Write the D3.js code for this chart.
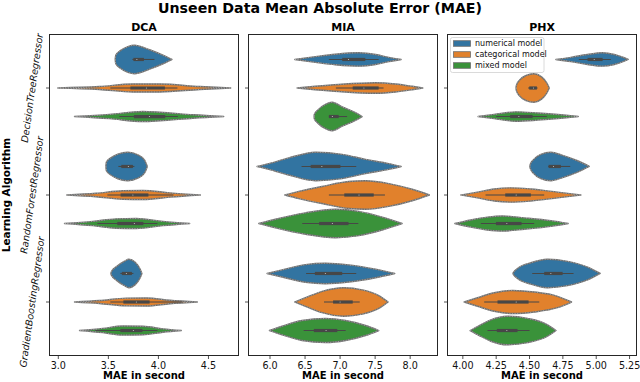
<!DOCTYPE html>
<html>
<head>
<meta charset="utf-8">
<script src="https://cdn.jsdelivr.net/npm/d3@7"></script>
<style>
  html, body { margin: 0; padding: 0; background: #fff; }
  svg { display: block; font-family: "DejaVu Sans", sans-serif; }
</style>
</head>
<body>
<svg id="chart" width="640" height="382"></svg>
<script>
// ---------------- DATA ----------------
const regions = ["DCA", "MIA", "PHX"];
const algorithms = ["DecisionTreeRegressor", "RandomForestRegressor", "GradientBoostingRegressor"];
const models = ["numerical model", "categorical model", "mixed model"];
const modelColors = ["#3274a1", "#e1812c", "#3a923a"];

const dcaTicks = [3.0, 3.5, 4.0, 4.5];
const miaTicks = [6.0, 6.5, 7.0, 7.5, 8.0];
const phxTicks = [4.0, 4.25, 4.5, 4.75, 5.0, 5.25];
const dcaTickLabels = ["3.0", "3.5", "4.0", "4.5"];
const miaTickLabels = ["6.0", "6.5", "7.0", "7.5", "8.0"];
const phxTickLabels = ["4.00", "4.25", "4.50", "4.75", "5.00", "5.25"];
const dcaDomain = [2.912, 4.80];
const miaDomain = [5.693, 8.39];
const phxDomain = [3.885, 5.302];

// violin density profiles: [MAE value, relative half-width]; order: algorithm x model
const dcaProfiles = [
  [[3.568,0],[3.574,0.3],[3.62,0.62],[3.695,0.9],[3.762,1.0],[3.812,0.93],[3.912,0.68],[4.045,0.3],[4.135,0]],
  [[2.995,0],[3.412,0.1],[3.745,0.28],[4.012,0.28],[4.412,0.1],[4.722,0]],
  [[3.162,0],[3.512,0.15],[3.845,0.35],[4.012,0.3],[4.345,0.12],[4.652,0]],
  [[3.475,0],[3.48,0.3],[3.529,0.62],[3.595,0.86],[3.695,1.0],[3.795,0.82],[3.862,0.45],[3.889,0]],
  [[3.085,0],[3.379,0.12],[3.645,0.3],[3.845,0.32],[4.112,0.15],[4.419,0]],
  [[3.062,0],[3.345,0.15],[3.579,0.33],[3.779,0.35],[4.045,0.15],[4.312,0]],
  [[3.525,0],[3.53,0.12],[3.585,0.5],[3.662,0.86],[3.705,1.0],[3.765,0.8],[3.818,0.3],[3.835,0]],
  [[3.162,0],[3.412,0.1],[3.679,0.27],[3.879,0.28],[4.112,0.12],[4.389,0]],
  [[3.212,0],[3.445,0.15],[3.645,0.32],[3.845,0.3],[4.045,0.12],[4.229,0]]
];
const miaProfiles = [
  [[6.354,0],[6.649,0.2],[6.934,0.37],[7.267,0.47],[7.505,0.35],[7.695,0.15],[7.871,0]],
  [[6.387,0],[6.649,0.12],[6.981,0.25],[7.505,0.37],[7.79,0.28],[8.028,0.12],[8.18,0]],
  [[6.628,0],[6.632,0.15],[6.68,0.45],[6.791,0.85],[6.886,1.0],[7.029,0.68],[7.219,0.27],[7.314,0]],
  [[5.816,0],[5.983,0.2],[6.268,0.6],[6.649,1.0],[7.029,0.85],[7.362,0.5],[7.695,0.2],[7.871,0]],
  [[6.211,0],[6.411,0.25],[6.744,0.6],[7.124,0.95],[7.362,1.0],[7.695,0.8],[8.028,0.4],[8.275,0]],
  [[5.84,0],[6.078,0.3],[6.506,0.75],[6.934,1.0],[7.267,0.85],[7.6,0.45],[7.885,0]],
  [[5.959,0],[6.173,0.25],[6.506,0.62],[6.791,0.72],[7.124,0.6],[7.505,0.3],[7.78,0]],
  [[6.354,0],[6.506,0.3],[6.744,0.75],[7.053,1.0],[7.314,0.85],[7.552,0.45],[7.685,0]],
  [[5.992,0],[6.173,0.3],[6.458,0.7],[6.791,0.84],[7.077,0.7],[7.362,0.35],[7.552,0]]
];
const phxProfiles = [
  [[4.698,0],[4.81,0.15],[4.935,0.35],[5.048,0.47],[5.135,0.35],[5.21,0.12],[5.24,0]],
  [[4.398,0],[4.402,0.2],[4.425,0.55],[4.475,0.88],[4.532,1.0],[4.59,0.78],[4.63,0.35],[4.648,0]],
  [[4.115,0],[4.235,0.15],[4.398,0.33],[4.56,0.25],[4.735,0.12],[4.865,0]],
  [[4.502,0],[4.506,0.15],[4.53,0.48],[4.585,0.85],[4.66,1.0],[4.748,0.78],[4.86,0.4],[4.948,0]],
  [[3.985,0],[4.11,0.2],[4.235,0.42],[4.36,0.5],[4.51,0.42],[4.71,0.2],[4.885,0]],
  [[3.94,0],[4.06,0.25],[4.185,0.45],[4.298,0.53],[4.46,0.4],[4.66,0.2],[4.79,0]],
  [[4.375,0],[4.38,0.08],[4.41,0.35],[4.51,0.75],[4.635,1.0],[4.785,0.85],[4.935,0.45],[5.03,0]],
  [[4.01,0],[4.11,0.3],[4.235,0.65],[4.373,0.81],[4.535,0.7],[4.71,0.4],[4.815,0]],
  [[4.055,0],[4.123,0.35],[4.21,0.75],[4.335,1.0],[4.485,0.85],[4.635,0.4],[4.698,0]]
];
// inner box: [whisker low, q1, median, q3, whisker high]
const dcaBoxes = [
  [3.74,3.75,3.785,3.855,3.96],[3.52,3.72,3.88,4.065,4.19],[3.61,3.755,3.91,4.068,4.195],
  [3.60,3.629,3.70,3.745,3.76],[3.49,3.622,3.745,3.90,4.15],[3.39,3.589,3.76,3.85,3.99],
  [3.62,3.635,3.68,3.735,3.75],[3.52,3.65,3.78,3.912,4.24],[3.37,3.62,3.75,3.84,3.99]
];
const miaBoxes = [
  [6.84,7.03,7.12,7.36,7.55],[6.94,7.18,7.34,7.55,7.62],[6.84,6.84,6.89,6.98,7.10],
  [6.45,6.58,6.74,7.005,7.23],[6.84,7.06,7.27,7.48,7.64],[6.46,6.70,6.89,7.12,7.26],
  [6.515,6.64,6.79,7.03,7.23],[6.77,6.90,7.00,7.18,7.28],[6.48,6.625,6.80,6.96,7.08]
];
const phxBoxes = [
  [4.87,4.935,4.985,5.048,5.11],[4.49,4.498,4.53,4.555,4.56],[4.25,4.355,4.42,4.523,4.63],
  [4.64,4.643,4.68,4.735,4.805],[4.17,4.318,4.40,4.51,4.61],[4.135,4.248,4.33,4.44,4.535],
  [4.52,4.61,4.66,4.748,4.83],[4.16,4.26,4.40,4.493,4.573],[4.185,4.255,4.33,4.41,4.50]
];

const panelData = [
  { name: regions[0], domain: dcaDomain, ticks: dcaTicks, labels: dcaTickLabels, profiles: dcaProfiles, boxes: dcaBoxes },
  { name: regions[1], domain: miaDomain, ticks: miaTicks, labels: miaTickLabels, profiles: miaProfiles, boxes: miaBoxes },
  { name: regions[2], domain: phxDomain, ticks: phxTicks, labels: phxTickLabels, profiles: phxProfiles, boxes: phxBoxes }
];

// ---------------- LAYOUT ----------------
const svg = d3.select("#chart");
const plotTop = 34.5, plotBottom = 355.5;
const panelLefts = [49.5, 248.5, 447.5];
const panelW = 189;
const edgeGray = "#6e6e6e";
const boxGray = "#474747";

svg.append("text")
  .attr("x", 320).attr("y", 12.5)
  .attr("text-anchor", "middle")
  .attr("font-size", 14.2).attr("font-weight", "bold")
  .text("Unseen Data Mean Absolute Error (MAE)");

const yBand = d3.scaleBand().domain(algorithms).range([plotTop, plotBottom]).padding(0);
const hueBand = d3.scaleBand().domain(models)
  .range([-0.4 * yBand.bandwidth(), 0.4 * yBand.bandwidth()]).padding(0);
const halfW = d3.scaleLinear().domain([0, 1]).range([0, hueBand.bandwidth() / 2]);

panelData.forEach((p, pi) => {
  const left = panelLefts[pi];
  const x = d3.scaleLinear().domain(p.domain).range([left, left + panelW]);
  const g = svg.append("g");

  // violins
  algorithms.forEach((alg, ai) => {
    models.forEach((m, mi) => {
      const idx = ai * 3 + mi;
      const cy = yBand(alg) + yBand.bandwidth() / 2 + hueBand(m) + hueBand.bandwidth() / 2;
      const area = d3.area()
        .x(d => x(d[0]))
        .y0(d => cy - halfW(d[1]))
        .y1(d => cy + halfW(d[1]))
        .curve(d3.curveMonotoneX);
      const prof = p.profiles[idx];
      g.append("path").attr("d", area(prof))
        .attr("fill", modelColors[mi])
        .attr("stroke", edgeGray).attr("stroke-width", 1.4)
        .attr("stroke-linejoin", "round");
      g.append("path").attr("d", area(prof))
        .attr("fill", "none")
        .attr("stroke", "#ffffff").attr("stroke-width", 0.5)
        .attr("stroke-dasharray", "1,1.6").attr("opacity", 0.75);
      const b = p.boxes[idx];
      g.append("line")
        .attr("x1", x(b[0])).attr("x2", x(b[4])).attr("y1", cy).attr("y2", cy)
        .attr("stroke", boxGray).attr("stroke-width", 1.1);
      g.append("line")
        .attr("x1", x(b[1])).attr("x2", x(b[3])).attr("y1", cy).attr("y2", cy)
        .attr("stroke", boxGray).attr("stroke-width", 3.2);
      g.append("circle")
        .attr("cx", x(b[2])).attr("cy", cy).attr("r", 0.55)
        .attr("fill", "#ffffff").attr("opacity", 0.7);
    });
  });

  // frame
  svg.append("rect")
    .attr("x", left).attr("y", plotTop).attr("width", panelW).attr("height", plotBottom - plotTop)
    .attr("fill", "none").attr("stroke", "#262626").attr("stroke-width", 1);

  // x axis
  const xAxis = svg.append("g").attr("transform", `translate(0,${plotBottom})`);
  p.ticks.forEach((t, ti) => {
    xAxis.append("line").attr("x1", x(t)).attr("x2", x(t)).attr("y1", 0).attr("y2", 3.5)
      .attr("stroke", "#262626").attr("stroke-width", 0.8);
    xAxis.append("text").attr("x", x(t)).attr("y", 13)
      .attr("text-anchor", "middle").attr("font-size", 9.6).attr("fill", "#111")
      .text(p.labels[ti]);
  });
  svg.append("text")
    .attr("x", left + panelW / 2).attr("y", 379)
    .attr("text-anchor", "middle").attr("font-size", 10).attr("font-weight", "bold")
    .text("MAE in second");

  // y ticks
  algorithms.forEach(alg => {
    const yy = yBand(alg) + yBand.bandwidth() / 2;
    svg.append("line").attr("x1", left - 3.5).attr("x2", left).attr("y1", yy).attr("y2", yy)
      .attr("stroke", "#262626").attr("stroke-width", 0.8);
  });

  // panel title
  svg.append("text")
    .attr("x", left + panelW / 2).attr("y", 31)
    .attr("text-anchor", "middle").attr("font-size", 11).attr("font-weight", "bold")
    .text(p.name);
});

// y tick labels (first panel only)
algorithms.forEach(alg => {
  const yy = yBand(alg) + yBand.bandwidth() / 2;
  svg.append("text")
    .attr("transform", `translate(${panelLefts[0] - 17.5},${yy}) rotate(-82)`)
    .attr("text-anchor", "middle").attr("dy", "0.35em")
    .attr("font-size", 9.6).attr("font-style", "italic").attr("fill", "#111")
    .text(alg);
});

svg.append("text")
  .attr("transform", `translate(9.5,${(plotTop + plotBottom) / 2}) rotate(-90)`)
  .attr("text-anchor", "middle").attr("font-size", 10.5).attr("font-weight", "bold")
  .text("Learning Algorithm");

// legend
const lg = svg.append("g");
lg.append("rect").attr("x", 450.5).attr("y", 37.5).attr("width", 93.5).attr("height", 35)
  .attr("rx", 2).attr("fill", "#fff").attr("fill-opacity", 0.85)
  .attr("stroke", "#d0d0d0").attr("stroke-width", 0.8);
models.forEach((m, i) => {
  const ly = 43.5 + i * 11;
  lg.append("rect").attr("x", 453.5).attr("y", ly - 2.8).attr("width", 17).attr("height", 5.6)
    .attr("fill", modelColors[i]).attr("stroke", edgeGray).attr("stroke-width", 0.8);
  lg.append("text").attr("x", 475).attr("y", ly).attr("dy", "0.35em")
    .attr("font-size", 8).attr("fill", "#111").text(m);
});
</script>
</body>
</html>
